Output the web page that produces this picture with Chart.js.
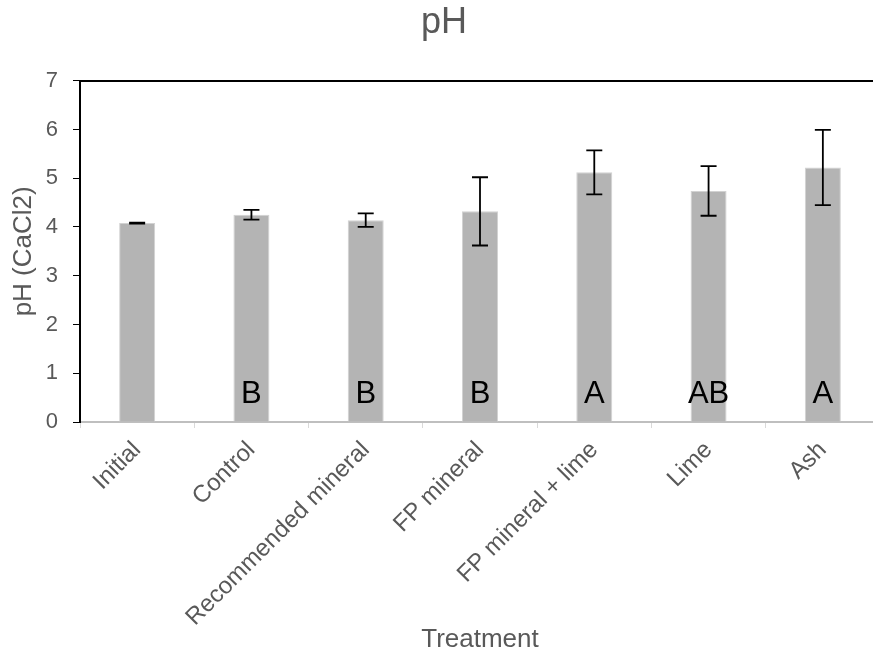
<!DOCTYPE html>
<html>
<head>
<meta charset="utf-8">
<script src="https://cdn.jsdelivr.net/npm/chart.js@4/dist/chart.umd.min.js"></script>
<style>
  html, body { margin: 0; padding: 0; background: #fff; overflow: hidden; }
  #wrap { width: 880px; height: 657px; }
</style>
</head>
<body>
<div id="wrap"><canvas id="phChart"></canvas></div>
<script>
// treatments and measured pH (CaCl2)
var treatments = ['Initial', 'Control', 'Recommended mineral', 'FP mineral', 'FP mineral + lime', 'Lime', 'Ash'];
var phMean = [4.08, 4.25, 4.14, 4.32, 5.12, 4.74, 5.22];
var phErr = [0.01, 0.10, 0.14, 0.70, 0.45, 0.51, 0.77];
var groups = ['', 'B', 'B', 'B', 'A', 'AB', 'A'];
var yTicks = [0, 1, 2, 3, 4, 5, 6, 7];

var grey = '#595959';
var letterLevel = 0.57;

// error bars drawn from the y scale
var errorBars = {
  id: 'errorBars',
  afterDatasetsDraw: function (chart) {
    var ctx = chart.ctx;
    var meta = chart.getDatasetMeta(0);
    var y = chart.scales.y;
    ctx.save();
    ctx.strokeStyle = '#000';
    ctx.lineWidth = 1.8;
    meta.data.forEach(function (bar, i) {
      var top = y.getPixelForValue(phMean[i] + phErr[i]);
      var bot = y.getPixelForValue(phMean[i] - phErr[i]);
      ctx.beginPath();
      ctx.moveTo(bar.x, top); ctx.lineTo(bar.x, bot);
      ctx.moveTo(bar.x - 8, top); ctx.lineTo(bar.x + 8, top);
      ctx.moveTo(bar.x - 8, bot); ctx.lineTo(bar.x + 8, bot);
      ctx.stroke();
    });
    ctx.restore();
  }
};

// significance letters inside the bars
var groupLetters = {
  id: 'groupLetters',
  afterDatasetsDraw: function (chart) {
    var ctx = chart.ctx;
    var meta = chart.getDatasetMeta(0);
    var yPix = chart.scales.y.getPixelForValue(letterLevel);
    ctx.save();
    ctx.fillStyle = '#000';
    ctx.font = '31px "Liberation Sans", Arial, sans-serif';
    ctx.textAlign = 'center';
    ctx.textBaseline = 'middle';
    meta.data.forEach(function (bar, i) {
      if (groups[i]) ctx.fillText(groups[i], bar.x, yPix);
    });
    ctx.restore();
  }
};

Chart.defaults.font.family = '"Liberation Sans", Arial, sans-serif';
Chart.defaults.color = grey;

var ctx = document.getElementById('phChart').getContext('2d');
var chart = new Chart(ctx, {
  type: 'bar',
  data: {
    labels: treatments,
    datasets: [{
      label: 'pH',
      data: phMean,
      backgroundColor: '#b4b4b4',
      borderColor: '#d2d2d2',
      borderWidth: 1,
      barPercentage: 0.315,
      categoryPercentage: 1
    }]
  },
  options: {
    responsive: true,
    maintainAspectRatio: false,
    animation: false,
    layout: { padding: { left: 8, right: 0, top: 0, bottom: 2 } },
    plugins: {
      legend: { display: false },
      tooltip: { enabled: false },
      title: {
        display: true,
        text: 'pH',
        color: grey,
        font: { size: 36, weight: 'normal' },
        padding: { top: 1, bottom: 28.5 }
      }
    },
    scales: {
      x: {
        offset: true,
        afterFit: function (axis) { axis.height = 233; },
        grid: { display: true, offset: true, drawOnChartArea: false, drawTicks: true, tickLength: 6, color: '#d9d9d9' },
        border: { display: true, color: '#bfbfbf', width: 2 },
        ticks: { color: grey, font: { size: 24 }, maxRotation: 45, minRotation: 45, padding: 8 },
        title: { display: true, text: 'Treatment', color: grey, font: { size: 26 }, padding: { top: 0, bottom: 0 } }
      },
      xTop: {
        type: 'category',
        position: 'top',
        labels: treatments,
        grid: { display: false },
        border: { display: true, color: '#000', width: 2 },
        ticks: { display: false }
      },
      y: {
        min: 0,
        max: 7,
        afterFit: function (axis) { axis.width = 72; },
        afterBuildTicks: function (axis) {
          axis.ticks = yTicks.map(function (v) { return { value: v }; });
        },
        grid: { display: true, drawOnChartArea: false, drawTicks: true, tickLength: 7, color: '#000' },
        border: { display: true, color: '#000', width: 2 },
        ticks: { color: grey, font: { size: 22 }, padding: 15 },
        title: { display: true, text: 'pH (CaCl2)', color: grey, font: { size: 26 }, padding: { top: 0, bottom: 8 } }
      }
    }
  },
  plugins: [errorBars, groupLetters]
});
</script>
</body>
</html>
